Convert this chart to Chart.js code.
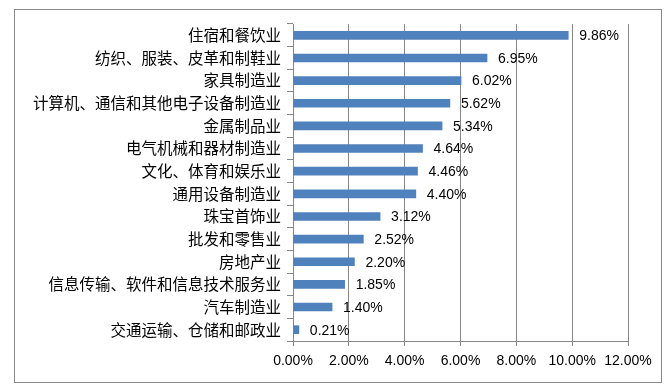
<!DOCTYPE html>
<html>
<head>
<meta charset="utf-8">
<script src="https://cdn.jsdelivr.net/npm/chart.js@4"></script>
<style>
    body { margin: 0; background: #fff; }
    #wrap { position: relative; width: 672px; height: 387px; }
    #frame { position: absolute; left: 14px; top: 9px; width: 648px; height: 374px; border: 1px solid #888; box-sizing: border-box; }
    #chart { position: absolute; left: 0; top: 0; }
</style>
</head>
<body>
<div id="wrap">
    <div id="frame"></div>
    <canvas id="chart" width="672" height="387"></canvas>
</div>
<script>
// industries, top to bottom
const industries = [
    '住宿和餐饮业',
    '纺织、服装、皮革和制鞋业',
    '家具制造业',
    '计算机、通信和其他电子设备制造业',
    '金属制品业',
    '电气机械和器材制造业',
    '文化、体育和娱乐业',
    '通用设备制造业',
    '珠宝首饰业',
    '批发和零售业',
    '房地产业',
    '信息传输、软件和信息技术服务业',
    '汽车制造业',
    '交通运输、仓储和邮政业'
];
// percent values
const shares = [9.86, 6.95, 6.02, 5.62, 5.34, 4.64, 4.46, 4.40, 3.12, 2.52, 2.20, 1.85, 1.40, 0.21];
const xTicks = [0, 2, 4, 6, 8, 10, 12];

const gray = '#868686';
const latinFont = "'Liberation Sans', Arial, sans-serif";
const cjkFont = "'Noto Sans CJK SC', sans-serif";

// draws the value labels to the right of each bar
const valueLabels = {
    id: 'valueLabels',
    afterDatasetsDraw(chart) {
        const ctx = chart.ctx;
        const meta = chart.getDatasetMeta(0);
        ctx.save();
        ctx.font = '14px ' + latinFont;
        ctx.fillStyle = '#000';
        ctx.textAlign = 'left';
        ctx.textBaseline = 'middle';
        meta.data.forEach((bar, i) => {
            ctx.fillText(shares[i].toFixed(2) + '%', bar.x + 11, bar.y + 1);
        });
        ctx.restore();
    }
};

const ctx = document.getElementById('chart').getContext('2d');
new Chart(ctx, {
    type: 'bar',
    data: {
        labels: industries,
        datasets: [{
            data: shares,
            backgroundColor: '#4F81BD',
            borderWidth: 0,
            barThickness: 8
        }]
    },
    options: {
        indexAxis: 'y',
        responsive: false,
        animation: false,
        layout: {
            padding: { left: 0, right: 44, top: 24, bottom: 16 }
        },
        plugins: {
            legend: { display: false },
            tooltip: { enabled: false }
        },
        scales: {
            x: {
                min: 0,
                max: 12,
                afterBuildTicks: scale => {
                    scale.ticks = xTicks.map(v => ({ value: v }));
                },
                afterFit: scale => { scale.height = 30; },
                grid: {
                    color: gray,
                    lineWidth: 1,
                    tickLength: 5,
                    drawTicks: true
                },
                border: { color: gray },
                ticks: {
                    padding: 7,
                    color: '#000',
                    font: { size: 14, family: latinFont },
                    maxRotation: 0,
                    callback: v => v.toFixed(2) + '%'
                }
            },
            y: {
                afterFit: scale => { scale.width = 293; },
                grid: {
                    drawOnChartArea: false,
                    drawTicks: true,
                    tickLength: 6,
                    color: gray,
                    offset: true
                },
                border: { color: gray },
                ticks: {
                    padding: 6,
                    color: '#000',
                    font: { size: 15.5, family: cjkFont },
                    autoSkip: false
                }
            }
        }
    },
    plugins: [valueLabels]
});
</script>
</body>
</html>
